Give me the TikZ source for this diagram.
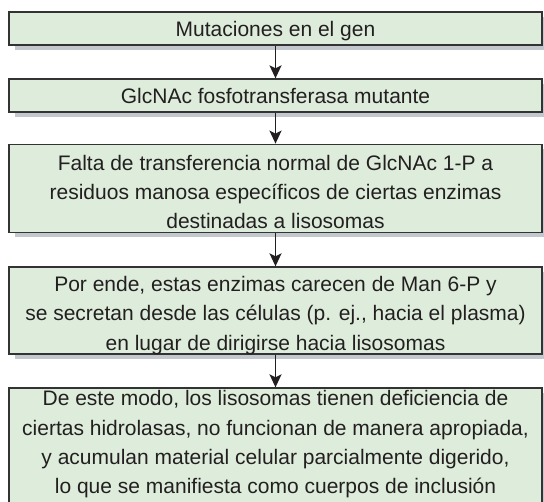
\documentclass[tikz,border=0pt]{standalone}
\usepackage{fontspec}
\setmainfont{Liberation Sans}
\usetikzlibrary{shadows,arrows.meta}
\definecolor{boxfill}{HTML}{DEEDDB}
\definecolor{boxdraw}{HTML}{333333}
\definecolor{shade}{HTML}{C3C8CE}
\definecolor{ink}{HTML}{231F20}
\begin{document}
\begin{tikzpicture}[x=1pt,y=-1pt,
  box/.style={draw=boxdraw, line width=1.3pt, fill=boxfill, minimum width=533pt,
    inner sep=0pt, drop shadow={shadow xshift=6pt, shadow yshift=-5pt, fill=shade, opacity=1}},
  txt/.style={font=\fontsize{21}{29.3}\selectfont, align=center, inner sep=0pt, text=ink},
  arr/.style={-{Stealth[length=13pt, width=12pt, inset=3pt]}, line width=1.9pt, draw=ink}]
\useasboundingbox (0,0) rectangle (544,502);
\clip (0,0) rectangle (544,502);
\fill[white] (0,0) rectangle (544,502);
\node[box, minimum height=33pt] (b1) at (275.5,28.5) {};
\node[box, minimum height=33pt] (b2) at (275.5,95.5) {};
\node[box, minimum height=88pt] (b3) at (275.5,188.3) {};
\node[box, minimum height=87pt] (b4) at (275.5,310.5) {};
\node[box, minimum height=124pt] (b5) at (275.5,450) {};
\node[txt] (t1) at (275.5,31.5) {Mutaciones en el gen};
\node[txt] (t2) at (275.5,96) {GlcNAc fosfotransferasa mutante};
\node[txt] (t3) at (275.5,192) {Falta de transferencia normal de GlcNAc 1-P a\\residuos manosa específicos de ciertas enzimas\\destinadas a lisosomas};
\node[txt] (t4) at (275.5,315.5) {Por ende, estas enzimas carecen de Man 6-P y\\se secretan desde las células (p. ej., hacia el plasma)\\en lugar de dirigirse hacia lisosomas};
\node[txt] (t5) at (275.5,444.5) {De este modo, los lisosomas tienen deficiencia de\\ciertas hidrolasas, no funcionan de manera apropiada,\\y acumulan material celular parcialmente digerido,\\lo que se manifiesta como cuerpos de inclusión};
\draw[arr] (b1.south) -- (b2.north);
\draw[arr] (b2.south) -- (b3.north);
\draw[arr] (b3.south) -- (b4.north);
\draw[arr] (b4.south) -- (b5.north);
\end{tikzpicture}
\end{document}
